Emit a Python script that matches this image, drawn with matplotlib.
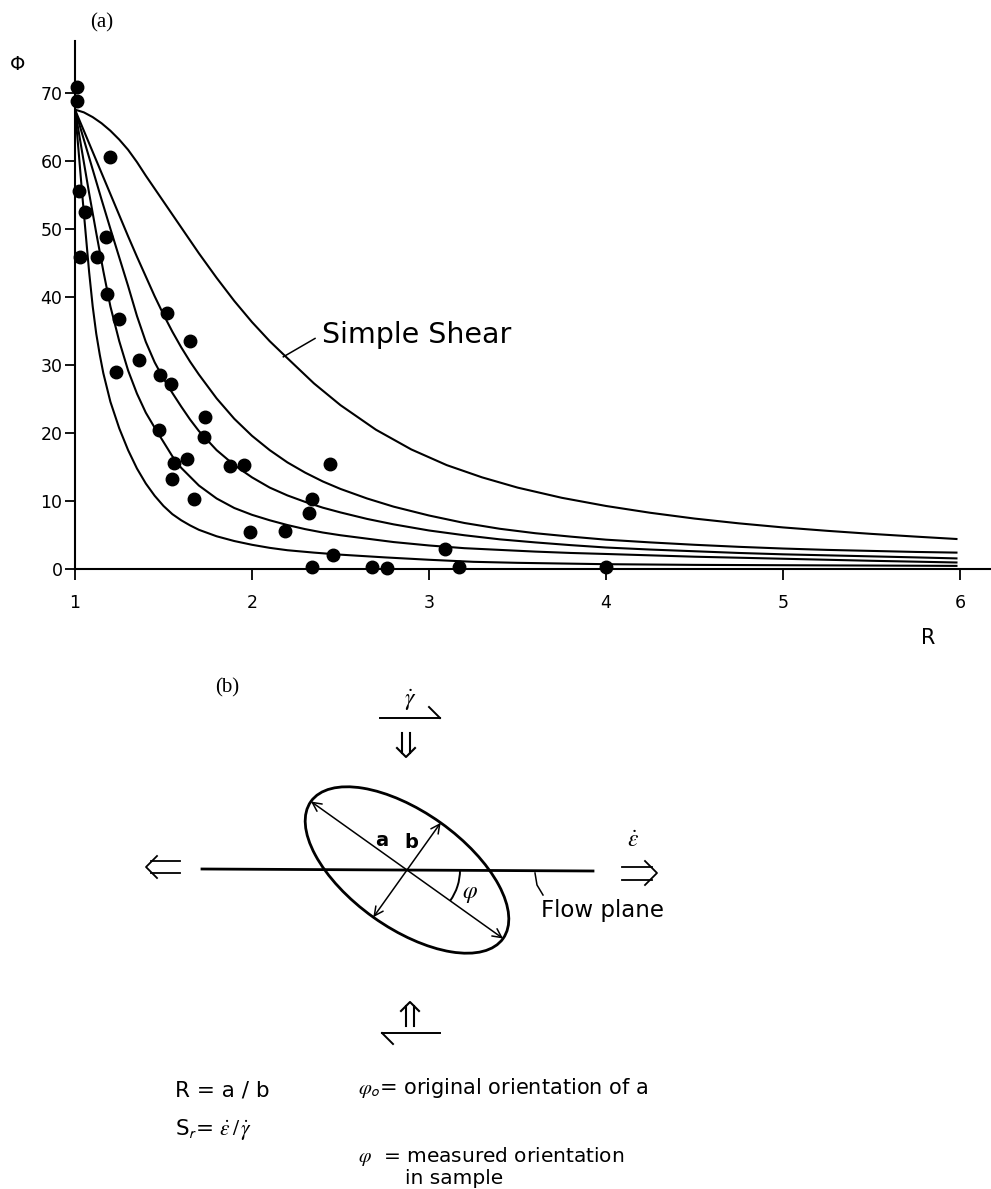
import matplotlib
matplotlib.use("Agg")
import matplotlib.pyplot as plt
import numpy as np
from matplotlib.patches import Ellipse, Arc

# measured grains: axial ratio R and orientation phi
R_meas = [1.013, 1.01, 1.198, 1.025, 1.056, 1.175, 1.028, 1.126, 1.182, 1.246,
          1.52, 1.65, 1.363, 1.23, 1.482, 1.542, 1.736, 1.73, 1.476, 1.634,
          1.557, 1.55, 1.67, 1.874, 1.953, 1.99, 2.186, 2.442, 2.337, 2.323,
          2.456, 2.34, 2.68, 2.76, 3.09, 3.17, 4.0]
phi_meas = [70.8, 68.8, 60.5, 55.6, 52.4, 48.8, 45.8, 45.9, 40.4, 36.7,
            37.6, 33.5, 30.7, 28.9, 28.6, 27.2, 22.3, 19.4, 20.4, 16.2,
            15.6, 13.3, 10.3, 15.2, 15.3, 5.5, 5.6, 15.5, 10.3, 8.3,
            2.1, 0.3, 0.3, 0.2, 3.0, 0.3, 0.3]

# theoretical curves (simple shear on top, then inwards)
ss_R = [1.0, 1.05, 1.1, 1.15, 1.2, 1.25, 1.3, 1.35, 1.4, 1.5, 1.6, 1.7, 1.8, 1.9,
        2.0, 2.1, 2.2, 2.35, 2.5, 2.7, 2.9, 3.1, 3.3, 3.5, 3.75, 4.0, 4.25, 4.5,
        4.75, 5.0, 5.25, 5.5, 5.75, 5.98]
ss_phi = [67.5, 67.1, 66.4, 65.5, 64.4, 63.1, 61.6, 59.8, 57.8, 54.0, 50.2, 46.4,
          42.8, 39.4, 36.3, 33.5, 31.0, 27.3, 24.1, 20.5, 17.6, 15.3, 13.5, 12.0,
          10.5, 9.3, 8.3, 7.45, 6.75, 6.15, 5.65, 5.2, 4.8, 4.45]

d_R = [1.0, 1.05, 1.1, 1.15, 1.2, 1.25, 1.3, 1.35, 1.4, 1.45, 1.5, 1.55, 1.6, 1.65,
       1.7, 1.8, 1.9, 2.0, 2.1, 2.2, 2.3, 2.4, 2.5, 2.65, 2.8, 3.0, 3.2, 3.4, 3.6,
       3.8, 4.0, 4.25, 4.5, 4.75, 5.0, 5.25, 5.5, 5.75, 5.98]
d_phi = [67.5, 64.4, 61.3, 58.2, 55.1, 52.0, 48.9, 45.9, 43.0, 40.1, 37.4, 34.9,
         32.6, 30.5, 28.6, 25.1, 22.1, 19.6, 17.5, 15.7, 14.2, 12.9, 11.8, 10.4,
         9.2, 7.9, 6.8, 5.95, 5.3, 4.8, 4.35, 3.95, 3.6, 3.3, 3.05, 2.85, 2.7, 2.55,
         2.45]

c_R = [1.0, 1.05, 1.1, 1.15, 1.2, 1.25, 1.3, 1.35, 1.4, 1.45, 1.5, 1.55, 1.6, 1.65,
       1.7, 1.8, 1.9, 2.0, 2.1, 2.2, 2.3, 2.4, 2.5, 2.65, 2.8, 3.0, 3.2, 3.4, 3.6,
       3.8, 4.0, 4.25, 4.5, 4.75, 5.0, 5.25, 5.5, 5.75, 5.98]
c_phi = [67.5, 63.1, 58.7, 54.3, 50.0, 45.8, 41.6, 37.2, 33.4, 30.4, 28.0, 25.9,
         23.9, 22.0, 20.3, 17.5, 15.3, 13.5, 12.0, 10.85, 9.9, 9.05, 8.35, 7.4, 6.6,
         5.7, 5.0, 4.4, 3.95, 3.55, 3.2, 2.9, 2.65, 2.4, 2.2, 2.05, 1.9, 1.75, 1.6]

b_R = [1.0, 1.04, 1.08, 1.12, 1.16, 1.2, 1.25, 1.3, 1.35, 1.4, 1.45, 1.5, 1.55, 1.6,
       1.7, 1.8, 1.9, 2.0, 2.1, 2.2, 2.3, 2.4, 2.5, 2.65, 2.8, 3.0, 3.2, 3.4, 3.6,
       3.8, 4.0, 4.25, 4.5, 4.75, 5.0, 5.25, 5.5, 5.75, 5.98]
b_phi = [67.5, 61.3, 55.2, 49.4, 43.8, 38.6, 33.5, 29.2, 25.8, 23.0, 20.8, 18.7,
         16.6, 14.9, 12.3, 10.4, 9.0, 8.0, 7.2, 6.5, 5.9, 5.4, 5.0, 4.5, 4.0, 3.5,
         3.1, 2.85, 2.6, 2.4, 2.25, 2.05, 1.85, 1.7, 1.55, 1.4, 1.25, 1.12, 1.0]

a_R = [1.0, 1.02, 1.04, 1.06, 1.08, 1.1, 1.12, 1.14, 1.16, 1.2, 1.25, 1.3, 1.35,
       1.4, 1.45, 1.5, 1.55, 1.6, 1.65, 1.7, 1.8, 1.9, 2.0, 2.1, 2.2, 2.35, 2.5,
       2.75, 3.0, 3.25, 3.5, 3.75, 4.0, 4.5, 5.0, 5.5, 5.98]
a_phi = [67.5, 61.5, 55.3, 49.4, 43.6, 38.6, 34.6, 31.5, 28.8, 24.6, 20.7, 17.5,
         14.8, 12.6, 10.8, 9.3, 8.1, 7.2, 6.45, 5.8, 4.85, 4.15, 3.6, 3.15, 2.8,
         2.45, 2.15, 1.75, 1.4, 1.1, 0.95, 0.85, 0.75, 0.65, 0.6, 0.55, 0.5]

x_ticks = [1, 2, 3, 4, 5, 6]
y_ticks = [0, 10, 20, 30, 40, 50, 60, 70]

plt.rcParams['font.family'] = ['DejaVu Sans']
plt.rcParams['mathtext.fontset'] = 'stix'

W, H = 991, 1189
fig = plt.figure(figsize=(W / 100, H / 100), dpi=100)

# ---- (a) graph ----
x0, y0, ytop = 75, 569.3, 41
ax = fig.add_axes([x0 / W, 1 - y0 / H, 1 - x0 / W, (y0 - ytop) / H])
ax.set_xlim(1, 1 + (W - x0) / 177.0)
ax.set_ylim(0, (y0 - ytop) / 6.81)

for r, p in [(ss_R, ss_phi), (d_R, d_phi), (c_R, c_phi), (b_R, b_phi), (a_R, a_phi)]:
    ax.plot(r, p, color='black', lw=1.5, solid_joinstyle='round')
ax.plot(R_meas, phi_meas, 'o', color='black', ms=9, clip_on=False)

ax.set_xticks(x_ticks)
ax.set_yticks(y_ticks)
ax.tick_params(axis='x', direction='out', length=8, width=1.3, pad=10, labelsize=12.5)
ax.tick_params(axis='y', direction='out', length=7, width=1.3, pad=2, labelsize=12.5)
for s in ['top', 'right']:
    ax.spines[s].set_visible(False)
for s in ['left', 'bottom']:
    ax.spines[s].set_linewidth(1.5)

ax.text(2.394, 34.4, 'Simple Shear', fontsize=20.5, va='center', ha='left')
ax.plot([2.356, 2.177], [33.9, 31.2], color='black', lw=1.1)

fig.text(18 / W, 1 - 65 / H, 'Φ', fontsize=14, ha='center', va='center')
fig.text(928 / W, 1 - 638 / H, 'R', fontsize=15, ha='center', va='center')
fig.text(102 / W, 1 - 23 / H, '(a)', fontsize=15, family='Liberation Serif',
         ha='center', va='center')

# ---- (b) sketch, drawn in pixel units ----
bx = fig.add_axes([0, 0, 1, 1])
bx.set_xlim(0, W)
bx.set_ylim(H, 0)
bx.axis('off')


def dbl_arrow(xs, ys, xt, yt, gap=7, head=13, lw=1.3):
    u = np.array([xt - xs, yt - ys], dtype=float)
    u /= np.hypot(*u)
    n = np.array([-u[1], u[0]])
    tip = np.array([xt, yt])
    end = tip - u * head * 0.45
    for sgn in (1, -1):
        a0 = np.array([xs, ys]) + sgn * n * gap
        a1 = end + sgn * n * gap
        bx.plot([a0[0], a1[0]], [a0[1], a1[1]], color='black', lw=lw)
    h1 = tip - u * head + n * head
    h2 = tip - u * head - n * head
    bx.plot([h1[0], tip[0], h2[0]], [h1[1], tip[1], h2[1]], color='black', lw=lw)


cx, cy = 407, 870
semi_a, semi_b, ang = 118, 58, 35.5

bx.text(227, 688, '(b)', fontsize=15, family='Liberation Serif', ha='center', va='center')

# shear sense arrows
bx.text(410, 700, r'$\dot{\gamma}$', fontsize=17, ha='center', va='center')
bx.plot([380, 440], [718, 718], color='black', lw=1.4)
bx.plot([440, 429], [718, 707], color='black', lw=1.4)
dbl_arrow(406, 733, 406, 757, gap=4, head=9, lw=1.5)

dbl_arrow(410, 1026, 410, 1002, gap=4, head=9, lw=1.5)
bx.plot([382, 440], [1033, 1033], color='black', lw=1.4)
bx.plot([382, 393], [1033, 1044], color='black', lw=1.4)

# flow plane and stretching arrows
bx.plot([202, 593], [869, 871], color='black', lw=2)
dbl_arrow(180, 867, 146, 867, gap=6, head=11)
dbl_arrow(622, 873, 657, 873, gap=6.5, head=12)
bx.text(633, 840, r'$\dot{\epsilon}$', fontsize=17, ha='center', va='center')

bx.add_patch(Ellipse((cx, cy), 2 * semi_a, 2 * semi_b, angle=ang, fill=False,
                     lw=2, color='black'))
t = np.radians(ang)
for L, th in [(semi_a, t), (semi_b, t - np.pi / 2)]:
    dx, dy = L * np.cos(th), L * np.sin(th)
    bx.annotate('', xy=(cx + dx, cy + dy), xytext=(cx - dx, cy - dy),
                arrowprops=dict(arrowstyle='<->', lw=1.1, color='black',
                                mutation_scale=16, shrinkA=0, shrinkB=0))
bx.text(382, 840, 'a', fontsize=14, fontweight='bold', ha='center', va='center')
bx.text(411, 843, 'b', fontsize=14, fontweight='bold', ha='center', va='center')

bx.add_patch(Arc((cx, cy), 106, 106, theta1=0, theta2=ang, lw=1.4, color='black'))
bx.text(470, 893, r'$\varphi$', fontsize=17, ha='center', va='center')

bx.plot([535, 537, 543], [873, 885, 895], color='black', lw=1.1)
bx.text(541, 910, 'Flow plane', fontsize=16.5, ha='left', va='center')

# definitions
bx.text(175, 1090, 'R = a / b', fontsize=15.5, ha='left', va='center')
bx.text(175, 1130, r'S$_\mathsf{r}$= $\dot{\epsilon}\,/\,\dot{\gamma}$', fontsize=15.5,
        ha='left', va='center')
bx.text(358, 1088, r'$\varphi_\mathsf{o}$= original orientation of a', fontsize=15,
        ha='left', va='center')
bx.text(358, 1157, r'$\varphi$  = measured orientation', fontsize=14.5,
        ha='left', va='center')
bx.text(405, 1179, 'in sample', fontsize=14.5, ha='left', va='center')

fig.savefig('out.png', dpi=100)
